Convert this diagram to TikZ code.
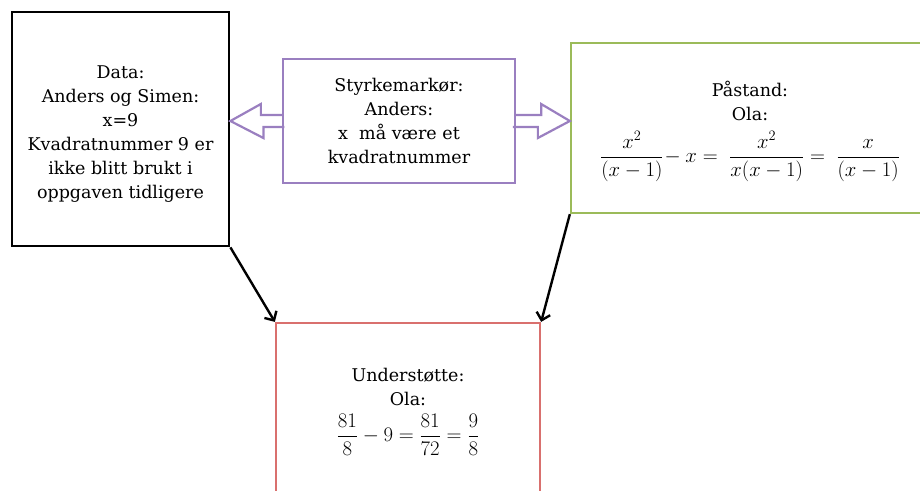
\documentclass[tikz,border=0pt]{standalone}
\usepackage{amsmath}
\usepackage{fontspec}
\setmainfont{DejaVu Serif}
\usetikzlibrary{arrows.meta,calc}
\definecolor{boxpurple}{HTML}{9A7FC0}
\definecolor{boxgreen}{HTML}{9BBB59}
\definecolor{boxred}{HTML}{D9706E}
\newcommand{\bigmath}[2]{{\fontsize{#1}{24}\selectfont$\displaystyle #2$}}
\tikzset{
  box/.style={draw, line width=2.3pt, fill=white, align=center, inner sep=0pt,
    font=\fontsize{17.5}{24}\selectfont},
  blockarrow/.style={draw=boxpurple, line width=2.2pt, line join=miter},
  conn/.style={draw=black, line width=2.4pt, -{Straight Barb[length=7pt,width=14pt,line width=2.4pt]}},
}
\begin{document}
\begin{tikzpicture}[x=1pt,y=-1pt]
\useasboundingbox (0,0) rectangle (920,490);
\clip (0,0) rectangle (920,490);
\node[box, draw=black, line width=2.8pt, minimum width=217pt, minimum height=234pt] (data) at (120.5,129)
  {\mbox{}\\[-1pt]Data:\\Anders og Simen:\\x=9\\Kvadratnummer 9 er\\ikke blitt brukt i\\oppgaven tidligere};
\node[box, draw=boxpurple, minimum width=232pt, minimum height=124pt] (styrke) at (399,121)
  {Styrkemarkør:\\Anders:\\x\ \ må være et\\kvadratnummer};
\node[box, draw=boxgreen, minimum width=358pt, minimum height=170pt] (paastand) at (750,128)
  {\mbox{}\\[-2pt]Påstand:\\Ola:\\[10pt]\bigmath{21}{\frac{x^2}{(x-1)}\!-x=\;\frac{x^2}{x(x-1)}=\;\frac{x}{(x-1)}}};
\node[box, draw=boxred, minimum width=264pt, minimum height=178pt] (stotte) at (408,412)
  {Understøtte:\\Ola:\\[7pt]\bigmath{22.5}{\frac{81}{8}-9=\frac{81}{72}=\frac{9}{8}}};
% hollow block arrows
\draw[blockarrow] (styrke.west) ++(0,-6) -- ++(-21,0) -- ++(0,-11) -- (data.east |- styrke.west)
  -- ++(33,17) -- ++(0,-11) -- ++(21,0);
\draw[blockarrow] (styrke.east) ++(0,-6) -- ++(25,0) -- ++(0,-11) -- (paastand.west |- styrke.east)
  -- ++(-32,17) -- ++(0,-11) -- ++(-25,0);
% connectors
\draw[conn] (data.south east) -- (stotte.north west);
\draw[conn] (paastand.south west) -- (stotte.north east);
\end{tikzpicture}
\end{document}
